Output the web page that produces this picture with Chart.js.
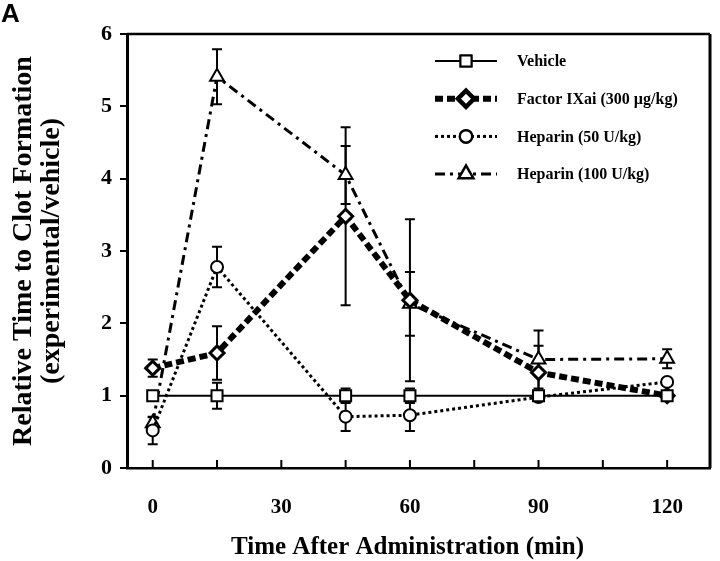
<!DOCTYPE html>
<html>
<head>
<meta charset="utf-8">
<script src="https://cdn.jsdelivr.net/npm/chart.js@4.4.1/dist/chart.umd.min.js"></script>
<style>
  body { margin: 0; background: #fff; }
  #wrap { width: 720px; height: 561px; position: relative; }
</style>
</head>
<body>
<div id="wrap"><canvas id="clotChart"></canvas></div>
<script>
// time points (min)
var times = [0, 15, 45, 60, 90, 120];

var labels = ['Vehicle', 'Factor IXai (300 \u00b5g/kg)', 'Heparin (50 U/kg)', 'Heparin (100 U/kg)'];

var vehicle    = [1.00, 1.00, 1.00, 1.00, 1.00, 1.00];
var vehicleErr = [0.06, 0.18, 0.10, 0.10, 0.04, 0.03];

var factor     = [1.38, 1.59, 3.48, 2.32, 1.32, 1.00];
var factorErr  = [0.12, 0.37, 1.23, 1.12, 0.37, 0.03];

var hep50      = [0.52, 2.78, 0.71, 0.73, 0.98, 1.19];
var hep50Err   = [0.19, 0.28, 0.20, 0.22, 0.03, 0.03];

var hep100     = [0.62, 5.41, 4.05, 2.27, 1.50, 1.51];
var hep100Err  = [0.08, 0.38, 0.40, 0.44, 0.40, 0.13];

var yTicks = [0, 1, 2, 3, 4, 5, 6];
var xTickLabels = [0, 30, 60, 90, 120];
var xTitle = 'Time After Administration (min)';

var serif = '"Liberation Serif", "Times New Roman", serif';

function pts(vals) {
  return times.map(function(t, i) { return { x: t, y: vals[i] }; });
}

var styles = [
  { width: 2,   dash: [],            point: 'rect',     radius: 7.8, pbw: 2 },
  { width: 6,   dash: [8, 4],        point: 'rectRot',  radius: 7,   pbw: 3 },
  { width: 3,   dash: [3, 3],        point: 'circle',   radius: 6,   pbw: 2 },
  { width: 3,   dash: [10, 5, 3, 5], point: 'triangle', radius: 8,   pbw: 2 }
];
var series = [vehicle, factor, hep50, hep100];
var errors = [vehicleErr, factorErr, hep50Err, hep100Err];

var datasets = series.map(function(vals, i) {
  var s = styles[i];
  return {
    label: labels[i],
    data: pts(vals),
    err: errors[i],
    borderColor: '#000',
    borderWidth: s.width,
    borderDash: s.dash,
    pointStyle: s.point,
    pointRadius: s.radius,
    pointBorderWidth: s.pbw,
    pointBackgroundColor: '#fff',
    pointBorderColor: '#000',
    tension: 0,
    fill: false
  };
});

// error bars, frame, inward x ticks, legend, x title and panel letter
var extras = {
  id: 'extras',
  beforeDatasetsDraw: function(chart) {
    var ctx = chart.ctx, xs = chart.scales.x, ys = chart.scales.y;
    ctx.save();
    ctx.strokeStyle = '#000';
    ctx.lineWidth = 2;
    ctx.setLineDash([]);
    chart.data.datasets.forEach(function(ds) {
      ds.data.forEach(function(p, i) {
        var e = ds.err[i];
        var x = xs.getPixelForValue(p.x);
        var y1 = ys.getPixelForValue(p.y - e), y2 = ys.getPixelForValue(p.y + e);
        ctx.beginPath();
        ctx.moveTo(x, y1); ctx.lineTo(x, y2);
        ctx.moveTo(x - 5, y1); ctx.lineTo(x + 5, y1);
        ctx.moveTo(x - 5, y2); ctx.lineTo(x + 5, y2);
        ctx.stroke();
      });
    });
    ctx.restore();
  },
  afterDraw: function(chart) {
    var ctx = chart.ctx, a = chart.chartArea, xs = chart.scales.x;
    ctx.save();
    ctx.strokeStyle = '#000';
    ctx.setLineDash([]);
    // top and right frame
    ctx.lineWidth = 2.5;
    ctx.beginPath();
    ctx.moveTo(a.left, a.top); ctx.lineTo(a.right, a.top);
    ctx.stroke();
    ctx.lineWidth = 3;
    ctx.beginPath();
    ctx.moveTo(a.right, a.top); ctx.lineTo(a.right, a.bottom);
    ctx.stroke();
    // inward ticks on x axis
    ctx.lineWidth = 2;
    for (var t = 0; t <= 120; t += 15) {
      var px = xs.getPixelForValue(t);
      ctx.beginPath();
      ctx.moveTo(px, a.bottom); ctx.lineTo(px, a.bottom - 8);
      ctx.stroke();
    }
    // legend
    var lx0 = a.left + 308, lx1 = a.left + 370, ly = a.top + 27, step = 37.7;
    chart.data.datasets.forEach(function(ds, i) {
      var s = styles[i], y = ly + i * step;
      ctx.lineWidth = s.width;
      ctx.setLineDash(s.dash);
      ctx.beginPath();
      ctx.moveTo(lx0, y); ctx.lineTo(lx1, y);
      ctx.stroke();
      ctx.setLineDash([]);
      ctx.fillStyle = '#fff';
      Chart.helpers.drawPoint(ctx, {
        pointStyle: s.point, radius: s.radius, borderWidth: s.pbw, rotation: 0
      }, (lx0 + lx1) / 2, y);
      ctx.fill();
      ctx.lineWidth = s.pbw;
      ctx.stroke();
      ctx.fillStyle = '#000';
      ctx.font = 'bold 16px ' + serif;
      ctx.textAlign = 'left';
      ctx.textBaseline = 'middle';
      ctx.fillText(ds.label, lx1 + 20, y + 1);
    });
    // x axis title
    ctx.fillStyle = '#000';
    ctx.font = 'bold 25px ' + serif;
    ctx.textAlign = 'center';
    ctx.textBaseline = 'middle';
    ctx.fillText(xTitle, (a.left + a.right) / 2 - 11, chart.height - 13);
    // panel letter
    ctx.font = 'bold 26px "Liberation Sans", Arial, sans-serif';
    ctx.textAlign = 'left';
    ctx.textBaseline = 'top';
    ctx.fillText('A', 1, 2);
    ctx.restore();
  }
};

new Chart(document.getElementById('clotChart'), {
  type: 'line',
  data: { datasets: datasets },
  plugins: [extras],
  options: {
    responsive: true,
    maintainAspectRatio: false,
    animation: false,
    layout: { padding: { top: 34, right: 4, left: 0, bottom: 0 } },
    plugins: {
      legend: { display: false },
      tooltip: { enabled: false }
    },
    scales: {
      x: {
        type: 'linear',
        min: -6,
        max: 130,
        afterFit: function(scale) { scale.height = 93; },
        grid: { display: false },
        border: { display: true, color: '#000', width: 2.5 },
        ticks: {
          stepSize: 15,
          includeBounds: false,
          padding: 19,
          maxRotation: 0,
          autoSkip: false,
          color: '#000',
          font: { family: serif, size: 21, weight: 'bold' },
          callback: function(v) { return xTickLabels.indexOf(v) >= 0 ? String(v) : ''; }
        }
      },
      y: {
        min: 0,
        max: 6,
        afterFit: function(scale) { scale.width = 127; },
        grid: { display: true, drawOnChartArea: false, drawTicks: true, tickLength: 7, color: '#000', lineWidth: 2 },
        border: { display: true, color: '#000', width: 3 },
        ticks: {
          stepSize: 1,
          padding: 8,
          color: '#000',
          font: { family: serif, size: 22, weight: 'bold' },
          callback: function(v) { return yTicks.indexOf(v) >= 0 ? String(v) : ''; }
        },
        title: {
          display: true,
          text: ['Relative Time to Clot Formation', '(experimental/vehicle)'],
          color: '#000',
          font: { family: serif, size: 28, weight: 'bold', lineHeight: 1.0 },
          padding: { top: 10, bottom: 0 }
        }
      }
    }
  }
});
</script>
</body>
</html>
